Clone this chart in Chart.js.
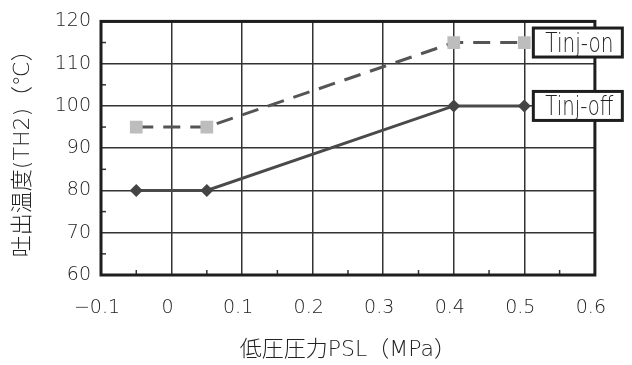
<!DOCTYPE html>
<html>
<head>
<meta charset="utf-8">
<script src="https://cdn.jsdelivr.net/npm/chart.js@4.4.1/dist/chart.umd.min.js"></script>
<style>
  html, body { margin: 0; padding: 0; background: #fff; }
  #wrap { width: 632px; height: 365px; }
</style>
</head>
<body>
<div id="wrap"><canvas id="c" width="632" height="365"></canvas></div>
<script>
// Low pressure PSL (MPa) against discharge temperature TH2 (°C)
const pslValues = [-0.05, 0.05, 0.4, 0.5];
const tinjOn  = [95, 95, 115, 115];
const tinjOff = [80, 80, 100, 100];
const seriesNames = ['Tinj-on', 'Tinj-off'];

const xTickValues = [-0.1, 0, 0.1, 0.2, 0.3, 0.4, 0.5, 0.6];
const xTickLabels = ['\u22120.1', '0', '0.1', '0.2', '0.3', '0.4', '0.5', '0.6'];
const yTickValues = [60, 70, 80, 90, 100, 110, 120];
const yTickLabels = ['60', '70', '80', '90', '100', '110', '120'];

const xTitle = '低圧圧力PSL（MPa）';
const yTitle = '吐出温度(TH2)（℃）';

const FONT = '"DejaVu Sans", "Noto Sans CJK JP", sans-serif';
const INK = '#222';

function labelFor(values, labels, v) {
  const i = values.findIndex(t => Math.abs(t - v) < 1e-9);
  return i >= 0 ? labels[i] : '';
}

// Frame, half-step inner ticks and series name boxes
const framePlugin = {
  id: 'frame',
  afterDatasetsDraw(chart) {
    const { ctx, chartArea: a, scales } = chart;
    ctx.save();
    // minor ticks pointing inward
    ctx.strokeStyle = '#333';
    ctx.lineWidth = 1.5;
    for (let i = 0; i < xTickValues.length - 1; i++) {
      const x = scales.x.getPixelForValue((xTickValues[i] + xTickValues[i + 1]) / 2);
      ctx.beginPath();
      ctx.moveTo(x, a.bottom);
      ctx.lineTo(x, a.bottom - 5);
      ctx.stroke();
    }
    for (let i = 0; i < yTickValues.length - 1; i++) {
      const y = scales.y.getPixelForValue((yTickValues[i] + yTickValues[i + 1]) / 2);
      ctx.beginPath();
      ctx.moveTo(a.left, y);
      ctx.lineTo(a.left + 5, y);
      ctx.stroke();
    }
    // outer frame
    ctx.strokeStyle = '#1e1e1e';
    ctx.lineWidth = 3;
    ctx.strokeRect(a.left, a.top, a.right - a.left, a.bottom - a.top);
    ctx.restore();
  },
  afterDraw(chart) {
    const { ctx } = chart;
    ctx.save();
    ctx.font = '200 26px ' + FONT;
    const textW = 68, w = 89, h = 29;
    chart.data.datasets.forEach((ds, di) => {
      const meta = chart.getDatasetMeta(di);
      const last = meta.data[meta.data.length - 1];
      const x0 = last.x + 9;
      const y0 = last.y - h / 2;
      ctx.fillStyle = '#fff';
      ctx.fillRect(x0, y0, w, h);
      ctx.strokeStyle = '#1e1e1e';
      ctx.lineWidth = 3;
      ctx.strokeRect(x0, y0, w, h);
      ctx.fillStyle = '#222';
      ctx.textAlign = 'left';
      ctx.textBaseline = 'alphabetic';
      ctx.fillText(ds.label, x0 + 12, last.y + 9.5, textW);
    });
    ctx.restore();
  }
};

new Chart(document.getElementById('c'), {
  type: 'line',
  data: {
    datasets: [
      {
        label: seriesNames[0],
        data: pslValues.map((x, i) => ({ x, y: tinjOn[i] })),
        borderColor: '#555',
        borderWidth: 3,
        borderDash: [17, 10],
        pointStyle: 'rect',
        pointRadius: 9,
        pointBackgroundColor: '#bdbdbd',
        pointBorderColor: '#bdbdbd',
        pointBorderWidth: 0,
        tension: 0
      },
      {
        label: seriesNames[1],
        data: pslValues.map((x, i) => ({ x, y: tinjOff[i] })),
        borderColor: '#4a4a4a',
        borderWidth: 3,
        pointStyle: 'rectRot',
        pointRadius: 6.5,
        pointBackgroundColor: '#444',
        pointBorderColor: '#444',
        pointBorderWidth: 0,
        tension: 0
      }
    ]
  },
  options: {
    responsive: false,
    animation: false,
    layout: { padding: { top: 17, right: 37, left: 0, bottom: 0 } },
    plugins: { legend: { display: false }, tooltip: { enabled: false } },
    scales: {
      x: {
        type: 'linear',
        min: -0.1, max: 0.6,
        afterBuildTicks(s) { s.ticks = xTickValues.map(v => ({ value: v })); },
        afterFit(s) { s.height = 90; },
        ticks: {
          color: INK,
          font: { family: FONT, size: 19, weight: 200 },
          padding: 22,
          labelOffset: -4,
          maxRotation: 0,
          callback: v => labelFor(xTickValues, xTickLabels, v)
        },
        grid: { color: '#333', lineWidth: 1.5, drawTicks: false },
        border: { display: false },
        title: {
          display: true, text: xTitle, color: INK,
          font: { family: FONT, size: 22, weight: 200 },
          padding: { top: 0, bottom: 2 }
        }
      },
      y: {
        min: 60, max: 120,
        afterBuildTicks(s) { s.ticks = yTickValues.map(v => ({ value: v })); },
        afterFit(s) { s.width = 101; },
        ticks: {
          color: INK,
          font: { family: FONT, size: 19, weight: 200 },
          padding: 10,
          callback: v => labelFor(yTickValues, yTickLabels, v)
        },
        grid: { color: '#333', lineWidth: 1.5, drawTicks: false },
        border: { display: false },
        title: {
          display: true, text: yTitle, color: INK,
          font: { family: FONT, size: 22, weight: 200 },
          padding: { top: 10, bottom: 0 }
        }
      }
    }
  },
  plugins: [framePlugin]
});
</script>
</body>
</html>
